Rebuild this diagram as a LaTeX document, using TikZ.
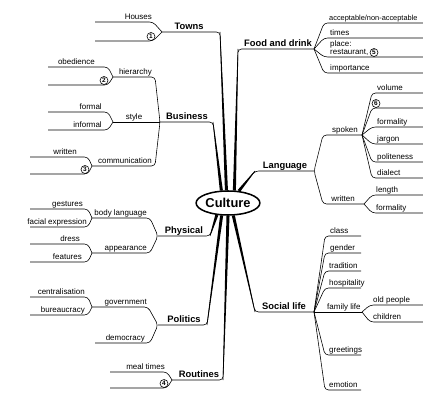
\documentclass[tikz,border=0pt]{standalone}
\usepackage{fontspec}
\setmainfont{Liberation Sans}
\usetikzlibrary{shapes.geometric,calc}

\begin{document}
\begin{tikzpicture}[x=0.3mm, y=-0.3mm,
    core/.style={ellipse, draw, line width=1.3pt, minimum width=17.4mm, minimum height=7.2mm, inner sep=0pt, font=\bfseries\fontsize{11}{13}\selectfont},
    topic/.style={font=\bfseries\fontsize{8}{9}\selectfont, inner sep=0pt, anchor=base, yshift=2.4pt},
    twig/.style={line width=0.5pt, rounded corners=3pt},
    leaf/.style={font=\fontsize{6.8}{7.4}\selectfont, inner sep=0pt, yshift=2.4pt},
    lleaf/.style={leaf, anchor=base east},
    rleaf/.style={leaf, anchor=base west},
    num/.style={circle, draw, line width=0.5pt, inner sep=0pt, minimum size=2.4mm, font=\bfseries\fontsize{5.5}{6}\selectfont}
]
  \useasboundingbox (0,0) rectangle (423,394);
  \node[core] (culture) at (228,203) {Culture};

  % main branches
  \coordinate (tw) at (162,32);  \coordinate (tw-c) at (220,32);
  \coordinate (bs) at (160,122); \coordinate (bs-c) at (213,122);
  \coordinate (fd) at (314,49);  \coordinate (fd-c) at (238,49);
  \coordinate (lg) at (314,171); \coordinate (lg-c) at (255,171);
  \coordinate (ph) at (158,236); \coordinate (ph-c) at (210,236);
  \coordinate (po) at (158,325); \coordinate (po-c) at (207,325);
  \coordinate (rt) at (172,380); \coordinate (rt-c) at (223,380);
  \coordinate (sl) at (314,312); \coordinate (sl-c) at (255,312);
  \foreach \br/\an in {tw/97, bs/118, fd/63, lg/48, ph/227, po/243, rt/270, sl/293}{
    \draw[twig] (\br) -- (\br-c) -- (culture.\an);
    \fill ($(\br-c)!0.25pt!90:(culture.\an)$) -- ($(\br-c)!0.25pt!-90:(culture.\an)$)
      -- ($(culture.\an)!1.3pt!90:(\br-c)$) -- ($(culture.\an)!1.3pt!-90:(\br-c)$) -- cycle;
  }
  \node[topic] (towns) at (189,32) {Towns};
  \node[topic] (business) at (187,122) {Business};
  \node[topic] (food) at (278,49) {Food and drink};
  \node[topic] (language) at (285,171) {Language};
  \node[topic] (physical) at (184,236) {Physical};
  \node[topic] (politics) at (184,325) {Politics};
  \node[topic] (routines) at (199,380) {Routines};
  \node[topic] (social) at (284,312) {Social life};

  % Towns
  \foreach \n/\y in {a/22, b/41}{
    \coordinate (tw\n) at (153,\y); \coordinate (tw\n-e) at (95,\y);
    \draw[twig] (tw) -- (tw\n) -- (tw\n-e);
  }
  \node[lleaf] (houses) at (152,22) {Houses};
  \node[num] (n1) at (151,36.5) {1};

  % Business
  \coordinate (hi) at (113,77);  \coordinate (hi-r) at (155,77);
  \coordinate (st) at (113,122);
  \coordinate (cm) at (92,166);  \coordinate (cm-r) at (155,166);
  \draw[twig] (hi) -- (hi-r) -- (bs) -- (cm-r) -- (cm);
  \draw[twig] (st) -- (bs);
  \foreach \g/\n/\y in {hi/a/67, hi/b/85, st/a/112, st/b/130}{
    \coordinate (\g\n) at (108,\y); \coordinate (\g\n-e) at (48,\y);
    \draw[twig] (\g) -- (\g\n) -- (\g\n-e);
  }
  \foreach \n/\y in {a/157, b/174}{
    \coordinate (cm\n) at (88,\y); \coordinate (cm\n-e) at (30,\y);
    \draw[twig] (cm) -- (cm\n) -- (cm\n-e);
  }
  \node[lleaf] (hierarchy) at (152,77) {hierarchy};
  \node[leaf, anchor=base] (style) at (134,122) {style};
  \node[lleaf] (communication) at (152,166) {communication};
  \node[lleaf] (obedience) at (95,67) {obedience};
  \node[num] (n2) at (104,80.5) {2};
  \node[lleaf] (formal) at (102,112) {formal};
  \node[lleaf] (informal) at (102,130) {informal};
  \node[lleaf] (writtenb) at (77,157) {written};
  \node[num] (n3) at (85,169.5) {3};

  % Physical
  \coordinate (bl) at (92,218); \coordinate (bl-r) at (150,218);
  \coordinate (ap) at (92,253); \coordinate (ap-r) at (150,253);
  \draw[twig] (bl) -- (bl-r) -- (ph) -- (ap-r) -- (ap);
  \foreach \g/\n/\y in {bl/a/209, bl/b/227, ap/a/244, ap/b/262}{
    \coordinate (\g\n) at (88,\y); \coordinate (\g\n-e) at (30,\y);
    \draw[twig] (\g) -- (\g\n) -- (\g\n-e);
  }
  \node[lleaf] (body) at (147,218) {body language};
  \node[lleaf] (appearance) at (147,253) {appearance};
  \node[lleaf] (gestures) at (83,209) {gestures};
  \node[lleaf] (facial) at (87,227) {facial expression};
  \node[lleaf] (dress) at (80,244) {dress};
  \node[lleaf] (features) at (82,262) {features};

  % Politics
  \coordinate (gv) at (92,307); \coordinate (gv-r) at (148,307);
  \coordinate (dm) at (95,343); \coordinate (dm-r) at (150,343);
  \draw[twig] (gv) -- (gv-r) -- (po) -- (dm-r) -- (dm);
  \foreach \n/\y in {a/297, b/315}{
    \coordinate (gv\n) at (88,\y); \coordinate (gv\n-e) at (30,\y);
    \draw[twig] (gv) -- (gv\n) -- (gv\n-e);
  }
  \node[lleaf] (government) at (147,307) {government};
  \node[lleaf] (democracy) at (145,343) {democracy};
  \node[lleaf] (central) at (85,297) {centralisation};
  \node[lleaf] (bureau) at (85,315) {bureaucracy};

  % Routines
  \foreach \n/\y in {a/372, b/388}{
    \coordinate (rt\n) at (167,\y); \coordinate (rt\n-e) at (110,\y);
    \draw[twig] (rt) -- (rt\n) -- (rt\n-e);
  }
  \node[lleaf] (meal) at (165,372) {meal times};
  \node[num] (n4) at (164,383.5) {4};

  % Food and drink
  \foreach \n/\y in {a/23, b/38, c/57, d/73}{
    \coordinate (fd\n) at (324,\y); \coordinate (fd\n-e) at (423,\y);
    \draw[twig] (fd) -- (fd\n) -- (fd\n-e);
  }
  \node[rleaf, font=\fontsize{6.3}{7}\selectfont] (accept) at (329,23) {acceptable/non-acceptable};
  \node[rleaf] (times) at (330,38) {times};
  \node[rleaf] (place) at (330,49.5) {place:};
  \node[rleaf] (restaurant) at (330,57) {restaurant,};
  \node[num] (n5) at (374,52.5) {5};
  \node[rleaf] (importance) at (330,73) {importance};

  % Language
  \coordinate (sp) at (362,135); \coordinate (sp-l) at (323,135);
  \coordinate (wr) at (364,204); \coordinate (wr-l) at (323,204);
  \draw[twig] (sp) -- (sp-l) -- (lg) -- (wr-l) -- (wr);
  \foreach \g/\n/\y in {sp/a/93, sp/b/108, sp/c/127, sp/d/144, sp/e/162, sp/f/178, wr/a/195, wr/b/213}{
    \coordinate (\g\n) at (372,\y); \coordinate (\g\n-e) at (423,\y);
    \draw[twig] (\g) -- (\g\n) -- (\g\n-e);
  }
  \node[leaf, anchor=base] (spoken) at (345,135) {spoken};
  \node[leaf, anchor=base] (written) at (343,204) {written};
  \node[rleaf] (volume) at (377,93) {volume};
  \node[num] (n6) at (376,103.5) {6};
  \node[rleaf] (formality) at (377,127) {formality};
  \node[rleaf] (jargon) at (377,144) {jargon};
  \node[rleaf] (politeness) at (377,162) {politeness};
  \node[rleaf] (dialect) at (377,178) {dialect};
  \node[rleaf] (length) at (376,195) {length};
  \node[rleaf] (formalityb) at (376,213) {formality};

  % Social life
  \coordinate (fl) at (362,312);
  \draw[twig] (sl) -- (fl);
  \foreach \n/\y in {a/236, b/253, c/271, d/288, e/355, f/390}{
    \coordinate (sl\n) at (325,\y); \coordinate (sl\n-e) at (361,\y);
    \draw[twig] (sl) -- (sl\n) -- (sl\n-e);
  }
  \foreach \n/\y in {a/305, b/322}{
    \coordinate (fl\n) at (370,\y); \coordinate (fl\n-e) at (423,\y);
    \draw[twig] (fl) -- (fl\n) -- (fl\n-e);
  }
  \node[rleaf] (class) at (330,236) {class};
  \node[rleaf] (gender) at (330,253) {gender};
  \node[rleaf] (tradition) at (329,271) {tradition};
  \node[rleaf] (hospitality) at (329,288) {hospitality};
  \node[rleaf] (family) at (327,312) {family life};
  \node[rleaf] (greetings) at (329,355) {greetings};
  \node[rleaf] (emotion) at (329,390) {emotion};
  \node[rleaf] (old) at (373,305) {old people};
  \node[rleaf] (children) at (373,322) {children};
\end{tikzpicture}
\end{document}
